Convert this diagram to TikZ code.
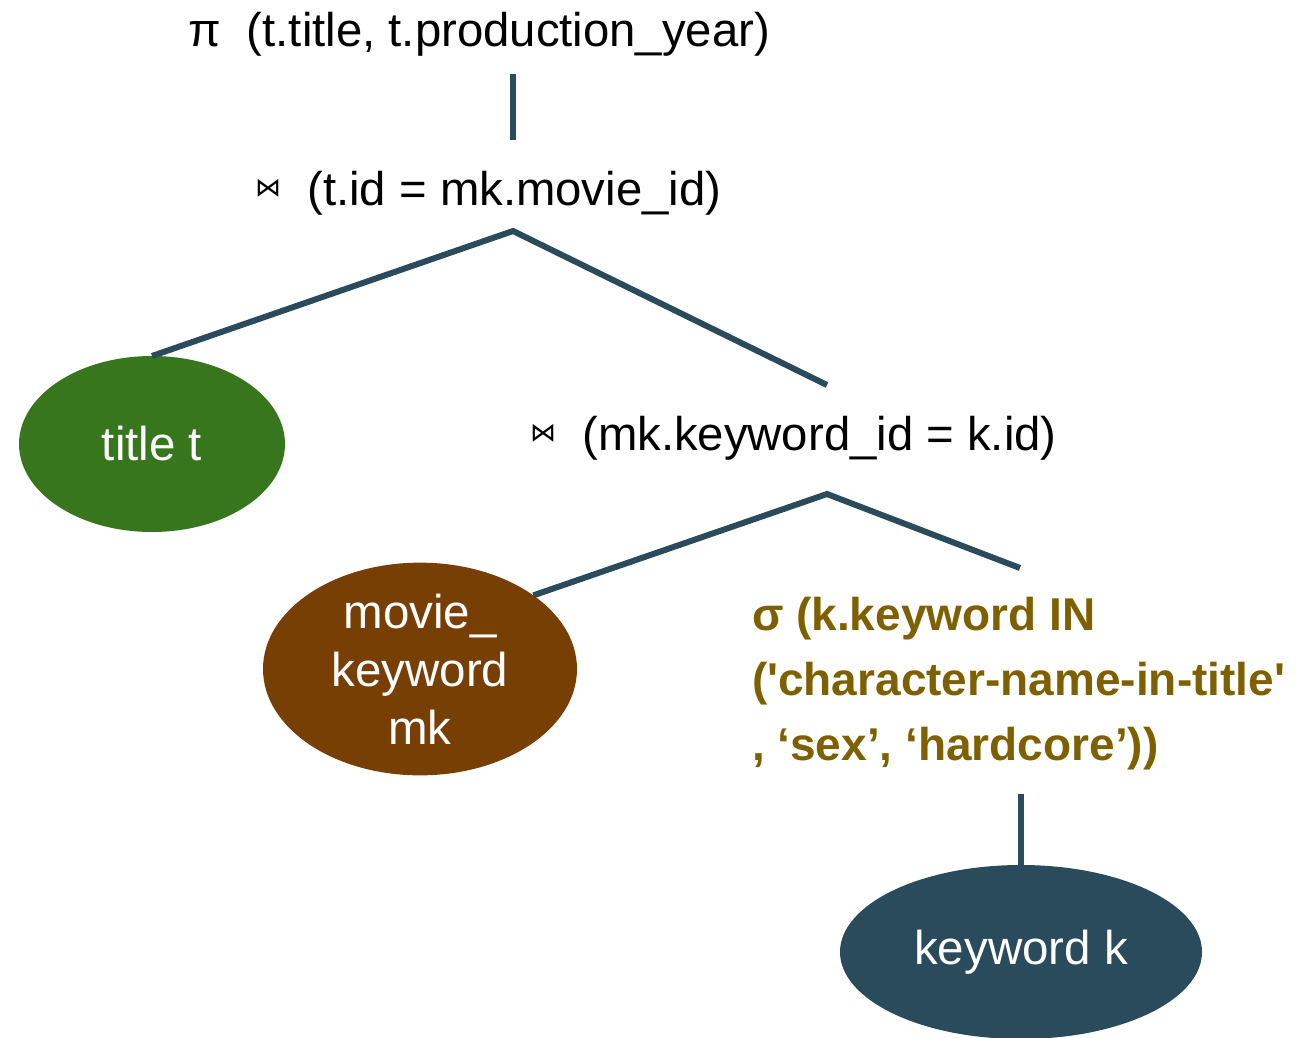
\documentclass[tikz,border=0pt]{standalone}
\usepackage{fontspec}
\setmainfont{Liberation Sans}
\newfontfamily\symfont{DejaVu Sans}
\usetikzlibrary{shapes.geometric}

\definecolor{edgeblue}{HTML}{2A4B5C}
\definecolor{relgreen}{HTML}{38761D}
\definecolor{relbrown}{HTML}{783F04}
\definecolor{relblue}{HTML}{2A4B5C}
\definecolor{selolive}{HTML}{7F6000}

% small bowtie for the join operator
\newcommand{\joinsym}{\raisebox{9pt}{\symfont\fontsize{26}{26}\selectfont ⋈}}

\begin{document}
\begin{tikzpicture}[x=1pt, y=-1pt,
  every node/.style={inner sep=0pt, outer sep=0pt},
  optext/.style={anchor=base west, text=black, font=\fontsize{47.3}{56}\selectfont},
  seltext/.style={anchor=north west, align=left, text=selolive,
    font=\bfseries\fontsize{46}{65}\selectfont},
  relnode/.style={ellipse, text=white, align=center,
    font=\fontsize{47.5}{58}\selectfont},
  edge/.style={draw=edgeblue, line width=6pt}]

\useasboundingbox (0,0) rectangle (1312,1038);

% operators
\node[optext] (proj) at (188,47) {π~~(t.title, t.production\_year)};
\node[optext] (joinA) at (255,205) {\joinsym~~(t.id = mk.movie\_id)};
\node[optext] (joinB) at (530,450) {\joinsym~~(mk.keyword\_id = k.id)};
\node[seltext] (sel) at (752,597) {σ (k.keyword IN\\
  (\textquotesingle character-name-in-title\textquotesingle\\
  , ‘sex’, ‘hardcore’))};

% base relations
\node[relnode, fill=relgreen, minimum width=266pt, minimum height=176pt]
  (title) at (152,444) {title t};
\node[relnode, fill=relbrown, minimum width=314pt, minimum height=204pt]
  (mk) at (420,669) {movie\_\\keyword\\mk};
\node[relnode, fill=relblue, minimum width=362pt, minimum height=174pt]
  (kw) at (1021,952) {keyword k};

% connector end points below and above the operator labels
\coordinate (projfoot) at (513,74);
\coordinate (joinAhead) at (513,140);
\coordinate (joinAfoot) at (513,231);
\coordinate (joinBhead) at (827,385);
\coordinate (joinBfoot) at (827,494);
\coordinate (selhead) at (1020,568);
\coordinate (selfoot) at (1021,794);

% tree edges
\draw[edge] (projfoot) -- (joinAhead);
\draw[edge] (title.north) -- (joinAfoot) -- (joinBhead);
\draw[edge] (mk.33) -- (joinBfoot) -- (selhead);
\draw[edge] (selfoot) -- (kw.north);
\end{tikzpicture}
\end{document}
